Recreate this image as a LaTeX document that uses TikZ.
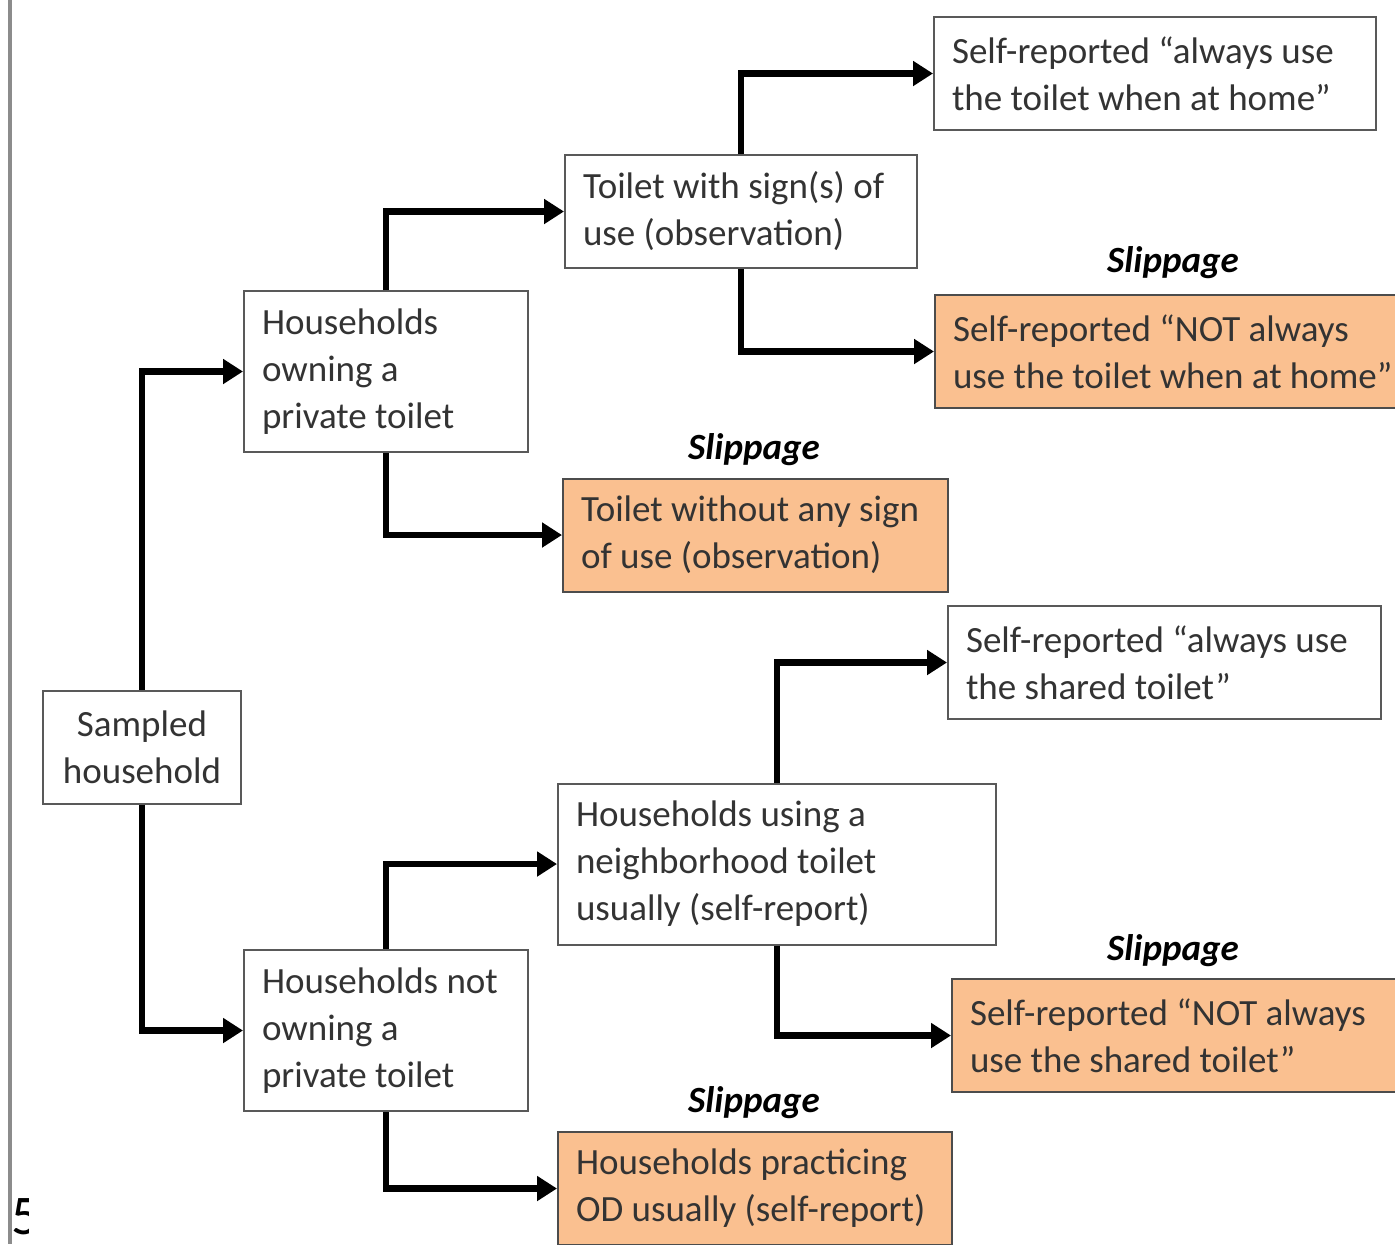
\documentclass[tikz,border=0pt]{standalone}
\usepackage{fontspec}
\setmainfont{Carlito}
\usetikzlibrary{arrows.meta}
\definecolor{slipOrange}{HTML}{FAC090}
\definecolor{boxLine}{HTML}{595959}
\definecolor{boxText}{HTML}{333333}
\definecolor{marginGray}{HTML}{8C8C8C}

\begin{document}
\begin{tikzpicture}[x = 0.5pt, y = -0.5pt]
\tikzstyle{boxStyle} = [draw = boxLine, line width = 1pt, text = boxText, font = \fontsize{18.5pt}{23.5pt}\selectfont, inner xsep = 9pt, inner ysep = 0pt, align = flush left]
\tikzstyle{twoLine} = [boxStyle, minimum height = 56.5pt]
\tikzstyle{threeLine} = [boxStyle, minimum height = 80.5pt]
\tikzstyle{slipStyle} = [fill = slipOrange, draw = black!70]
\tikzstyle{slipLabel} = [font = \fontsize{18.5pt}{22pt}\selectfont\bfseries\itshape, inner sep = 0pt]
\tikzstyle{flowEdge} = [line width = 3.2pt, -{Triangle[length = 10pt, width = 12pt]}]
\useasboundingbox (0,0) rectangle (1395,1244);
\draw[marginGray, line width = 2pt] (10,0) -- (10,1244);
\begin{scope}
\clip (12,1180) rectangle (28,1236);
\node[anchor = base west, inner sep = 0pt, font = \fontsize{28pt}{30pt}\selectfont] (pagenum) at (11,1234) {5};
\end{scope}
\node[twoLine, align = center, text width = 81pt] (sampled) at (142, 747) {Sampled\\household};
\node[threeLine, text width = 124pt] (owning) at (386, 371.5) {Households\\owning a\\private toilet};
\node[threeLine, text width = 124pt] (notowning) at (386, 1030.5) {Households not\\owning a\\private toilet};
\node[twoLine, text width = 158pt] (signs) at (741, 211.5) {Toilet with sign(s) of\\use (observation)};
\node[twoLine, slipStyle, text width = 174.5pt] (without) at (755.5, 535) {Toilet without any sign\\of use (observation)};
\node[threeLine, text width = 201pt] (using) at (777, 864) {Households using a\\neighborhood toilet\\usually (self-report)};
\node[twoLine, slipStyle, text width = 179pt] (od) at (755, 1188.5) {Households practicing\\OD usually (self-report)};
\node[twoLine, text width = 203pt] (always) at (1155, 73.5) {Self-reported “always use\\the toilet when at home”};
\node[twoLine, slipStyle, text width = 224.5pt] (nothome) at (1177.5, 351.5) {Self-reported “NOT always\\use the toilet when at home”};
\node[twoLine, text width = 198.5pt] (shared) at (1164.5, 662.5) {Self-reported “always use\\the shared toilet”};
\node[twoLine, slipStyle, text width = 216pt] (notshared) at (1186, 1035.5) {Self-reported “NOT always\\use the shared toilet”};
\node[slipLabel] (slipHome) at (1173, 263) {Slippage};
\node[slipLabel] (slipSign) at (754, 450) {Slippage};
\node[slipLabel] (slipShared) at (1173, 951) {Slippage};
\node[slipLabel] (slipOD) at (754, 1103) {Slippage};
\draw[flowEdge] (sampled.north) |- (owning.west);
\draw[flowEdge] (sampled.south) |- (notowning.west);
\draw[flowEdge] (owning.north) |- (signs.west);
\draw[flowEdge] (owning.south) |- (without.west);
\draw[flowEdge] (signs.north) |- (always.west);
\draw[flowEdge] (signs.south) |- (nothome.west);
\draw[flowEdge] (notowning.north) |- (using.west);
\draw[flowEdge] (notowning.south) |- (od.west);
\draw[flowEdge] (using.north) |- (shared.west);
\draw[flowEdge] (using.south) |- (notshared.west);
\end{tikzpicture}
\end{document}
